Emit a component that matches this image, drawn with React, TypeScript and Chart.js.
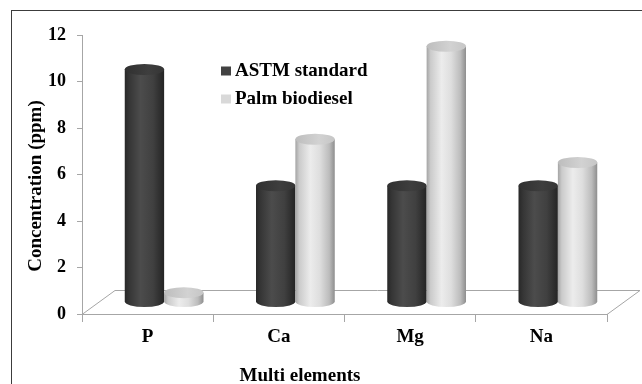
import { useEffect, useRef } from 'react';
import { Chart, registerables } from 'chart.js';
import type { Plugin, ChartConfiguration } from 'chart.js';

Chart.register(...registerables);

// ---- data ----
const CATEGORIES = ['P', 'Ca', 'Mg', 'Na'];
const ASTM_STANDARD = [10, 5, 5, 5];
const PALM_BIODIESEL = [0.4, 7, 11, 6];
const SERIES_NAMES = ['ASTM standard', 'Palm biodiesel'];
const Y_MIN = 0;
const Y_MAX = 12;
const Y_STEP = 2;
const X_TITLE = 'Multi elements';
const Y_TITLE = 'Concentration (ppm)';

// ---- look ----
const W = 642;
const H = 384;
const SERIF = "'Liberation Serif', 'Times New Roman', serif";
const AXIS_GRAY = '#a6a6a6';
const FRAME_COLOR = '#3c3c3c';
const DEPTH_X = 33; // floor depth, horizontal
const DEPTH_Y = 24; // floor depth, vertical
const ELLIPSE_RY = 5.5;

type Stop = [number, string];
interface CylStyle {
  swatch: string;
  body: Stop[];
  top: Stop[];
}

const DARK: CylStyle = {
  swatch: '#424242',
  body: [
    [0, '#282828'],
    [0.12, '#363636'],
    [0.4, '#4c4c4c'],
    [0.72, '#404040'],
    [1, '#242424'],
  ],
  top: [
    [0, '#303030'],
    [0.6, '#3e3e3e'],
    [1, '#353535'],
  ],
};

const LIGHT: CylStyle = {
  swatch: '#d9d9d9',
  body: [
    [0, '#a4a4a4'],
    [0.1, '#cbcbcb'],
    [0.38, '#ececec'],
    [0.62, '#dedede'],
    [0.86, '#bcbcbc'],
    [1, '#8e8e8e'],
  ],
  top: [
    [0, '#bdbdbd'],
    [0.6, '#d2d2d2'],
    [1, '#c6c6c6'],
  ],
};

const SERIES_STYLES = [DARK, LIGHT];

function gradient(ctx: CanvasRenderingContext2D, l: number, r: number, stops: Stop[]) {
  const g = ctx.createLinearGradient(l, 0, r, 0);
  stops.forEach(([o, c]) => g.addColorStop(o, c));
  return g;
}

function drawCylinder(
  ctx: CanvasRenderingContext2D,
  cx: number,
  top: number,
  bottom: number,
  w: number,
  style: CylStyle
) {
  const rx = w / 2;
  const l = cx - rx;
  const r = cx + rx;
  ctx.save();
  // body with rounded base
  ctx.beginPath();
  ctx.moveTo(l, top);
  ctx.lineTo(l, bottom);
  ctx.ellipse(cx, bottom, rx, ELLIPSE_RY, 0, Math.PI, 0, true);
  ctx.lineTo(r, top);
  ctx.closePath();
  ctx.fillStyle = gradient(ctx, l, r, style.body);
  ctx.fill();
  // lid
  ctx.beginPath();
  ctx.ellipse(cx, top, rx, ELLIPSE_RY, 0, 0, Math.PI * 2);
  ctx.fillStyle = gradient(ctx, l, r, style.top);
  ctx.fill();
  ctx.restore();
}

const cylinderPlugin: Plugin<'bar'> = {
  id: 'cylinders3d',
  beforeDraw(chart) {
    const { ctx } = chart;
    ctx.save();
    ctx.fillStyle = '#ffffff';
    ctx.fillRect(0, 0, chart.width, chart.height);
    ctx.strokeStyle = FRAME_COLOR;
    ctx.lineWidth = 1;
    ctx.strokeRect(11.5, 10.5, chart.width + 40, chart.height + 40);
    ctx.restore();
  },
  beforeDatasetsDraw(chart) {
    // floor of the 3-D plot
    const { ctx, chartArea } = chart;
    const { left, right, bottom } = chartArea;
    ctx.save();
    ctx.strokeStyle = AXIS_GRAY;
    ctx.lineWidth = 1;
    ctx.beginPath();
    ctx.moveTo(left, bottom + 0.5);
    ctx.lineTo(left + DEPTH_X, bottom - DEPTH_Y + 0.5);
    ctx.lineTo(right + DEPTH_X, bottom - DEPTH_Y + 0.5);
    ctx.lineTo(right, bottom + 0.5);
    ctx.stroke();
    ctx.restore();
  },
  beforeDatasetDraw() {
    return false;
  },
  afterDatasetsDraw(chart) {
    const { ctx } = chart;
    chart.data.datasets.forEach((_, di) => {
      const meta = chart.getDatasetMeta(di);
      const style = SERIES_STYLES[di];
      meta.data.forEach((el) => {
        const { x, y, base, width } = el.getProps(['x', 'y', 'base', 'width'], true) as any;
        const cx = x + DEPTH_X / 2;
        drawCylinder(ctx, cx, y - DEPTH_Y / 2, base - DEPTH_Y / 2, width, style);
      });
    });
  },
  afterDraw(chart) {
    const { ctx } = chart;
    ctx.save();
    ctx.fillStyle = '#000000';
    ctx.textBaseline = 'middle';

    // legend
    ctx.font = `bold 19px ${SERIF}`;
    ctx.textAlign = 'left';
    chart.data.datasets.forEach((ds, i) => {
      const rowY = 71 + i * 28;
      ctx.fillStyle = SERIES_STYLES[i].swatch;
      ctx.fillRect(221, rowY - 4.5, 10, 9);
      ctx.fillStyle = '#000000';
      ctx.fillText(String(ds.label), 235, rowY + 0.5);
    });

    // axis titles
    ctx.textAlign = 'center';
    ctx.fillText(X_TITLE, 300, 376);
    ctx.translate(36, 186);
    ctx.rotate(-Math.PI / 2);
    ctx.fillText(Y_TITLE, 0, 0);
    ctx.restore();
  },
};

const config: ChartConfiguration<'bar'> = {
  type: 'bar',
  data: {
    labels: CATEGORIES,
    datasets: [
      { label: SERIES_NAMES[0], data: ASTM_STANDARD, backgroundColor: DARK.swatch },
      { label: SERIES_NAMES[1], data: PALM_BIODIESEL, backgroundColor: LIGHT.swatch },
    ],
  },
  options: {
    animation: false,
    responsive: false,
    devicePixelRatio: 1,
    datasets: { bar: { categoryPercentage: 0.6, barPercentage: 1 } },
    layout: { padding: { top: 35, right: 35, left: 0, bottom: 0 } },
    plugins: {
      legend: { display: false },
      tooltip: { enabled: false },
    },
    scales: {
      x: {
        grid: { offset: true, drawOnChartArea: false, tickLength: 8, color: AXIS_GRAY },
        border: { color: AXIS_GRAY },
        ticks: {
          color: '#000000',
          font: { family: SERIF, size: 19, weight: 'bold' },
          padding: 4,
        },
        afterFit: (scale) => {
          scale.height = 70;
        },
      },
      y: {
        min: Y_MIN,
        max: Y_MAX,
        grid: { drawOnChartArea: false, tickLength: 5, color: AXIS_GRAY },
        border: { color: AXIS_GRAY },
        ticks: {
          stepSize: Y_STEP,
          color: '#000000',
          font: { family: SERIF, size: 18, weight: 'bold' },
          padding: 11,
        },
        afterFit: (scale) => {
          scale.width = 82;
        },
      },
    },
  },
  plugins: [cylinderPlugin],
};

export default function App() {
  const canvasRef = useRef<HTMLCanvasElement>(null);
  useEffect(() => {
    const chart = new Chart(canvasRef.current!, config);
    return () => chart.destroy();
  }, []);
  return (
    <div style={{ position: 'fixed', left: 0, top: 0, width: W, height: H, background: '#fff' }}>
      <canvas ref={canvasRef} width={W} height={H} style={{ display: 'block', width: W, height: H }} />
    </div>
  );
}
